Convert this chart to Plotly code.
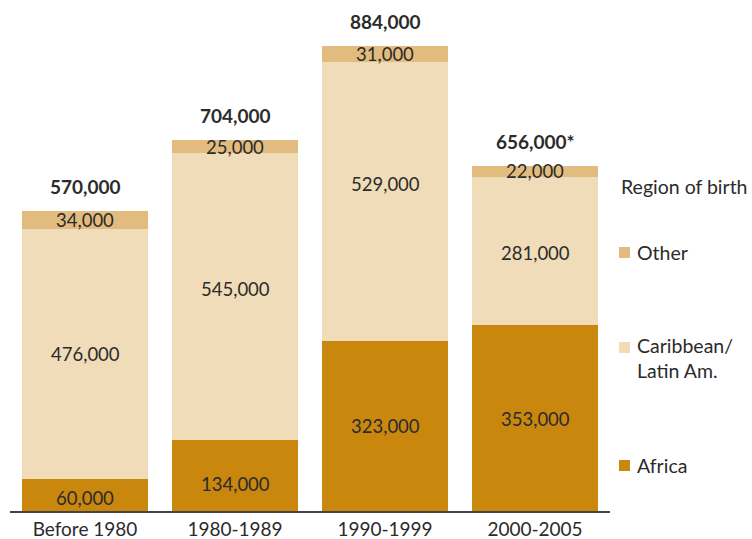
import plotly.graph_objects as go

# Foreign-born population by period of arrival and region of birth
periods = ["Before 1980", "1980-1989", "1990-1999", "2000-2005"]
africa = [60000, 134000, 323000, 353000]
caribbean = [476000, 545000, 529000, 281000]
other = [34000, 25000, 31000, 22000]
totals = [570000, 704000, 884000, 656000]
total_labels = ["570,000", "704,000", "884,000", "656,000*"]

series_names = ["Africa", "Caribbean/<br>Latin Am.", "Other"]
series_colors = ["#C9870E", "#F0DCB8", "#E2BB7E"]
series_values = [africa, caribbean, other]
# Small vertical nudges (px) for the in-bar value labels
label_nudges = [[-3, -8, 0, -1], [0, 8, 18, -2], [0, 0, 0, 0]]

FONT = "Lato, 'Open Sans', sans-serif"
TEXT_COLOR = "#2b2b2b"
VALUE_SIZE = 18.5
TOTAL_SIZE = 19
AXIS_SIZE = 19
LEGEND_SIZE = 19.5

W, H = 752, 539
ML, MR, MT, MB = 10, 142, 37, 28
pw, ph = W - ML - MR, H - MT - MB


def px_to_paper(x, y):
    return (x - ML) / pw, (H - MB - y) / ph


fig = go.Figure()
for name, color, vals in zip(series_names, series_colors, series_values):
    fig.add_trace(go.Bar(
        x=periods, y=vals, name=name,
        marker=dict(color=color, line=dict(width=0)),
        showlegend=False, hoverinfo="skip",
    ))

annotations = []
# Segment value labels inside each segment
for i, p in enumerate(periods):
    base = 0
    for s, vals in enumerate(series_values):
        v = vals[i]
        annotations.append(dict(
            x=p, y=base + v / 2, xref="x", yref="y",
            text=f"{v:,}", showarrow=False, yshift=label_nudges[s][i],
            font=dict(family=FONT, size=VALUE_SIZE, color=TEXT_COLOR),
        ))
        base += v
    # Total label above the stack
    annotations.append(dict(
        x=p, y=base, xref="x", yref="y",
        text=f"<b>{total_labels[i]}</b>", showarrow=False,
        yanchor="bottom", yshift=11,
        font=dict(family=FONT, size=TOTAL_SIZE, color=TEXT_COLOR),
    ))

# Hand-placed legend at the right
tx, ty = px_to_paper(619, 186)
annotations.append(dict(
    x=tx, y=ty, xref="paper", yref="paper", text="Region of birth",
    showarrow=False, xanchor="left", yanchor="middle",
    font=dict(family=FONT, size=LEGEND_SIZE, color=TEXT_COLOR),
))
legend_items = [("Other", series_colors[2], 252),
                ("Caribbean/<br>Latin Am.", series_colors[1], 358),
                ("Africa", series_colors[0], 465)]

shapes = []
for label, color, ypx in legend_items:
    lx, ly = px_to_paper(635, ypx)
    annotations.append(dict(
        x=lx, y=ly, xref="paper", yref="paper", text=label,
        showarrow=False, xanchor="left", yanchor="middle",
        align="left",
        font=dict(family=FONT, size=LEGEND_SIZE, color=TEXT_COLOR),
    ))
    sy = ypx - 11 if "<br>" in label else ypx
    x0, y0 = px_to_paper(619, sy + 6)
    x1, y1 = px_to_paper(630, sy - 5)
    shapes.append(dict(type="rect", xref="paper", yref="paper",
                       x0=x0, y0=y0, x1=x1, y1=y1,
                       fillcolor=color, line=dict(width=0)))

fig.update_layout(
    width=W, height=H,
    margin=dict(l=ML, r=MR, t=MT, b=MB),
    barmode="stack", bargap=0.16,
    paper_bgcolor="white", plot_bgcolor="white",
    font=dict(family=FONT, size=AXIS_SIZE, color=TEXT_COLOR),
    xaxis=dict(showline=True, linecolor="#444", linewidth=1.5,
               ticks="", showgrid=False, tickfont=dict(size=AXIS_SIZE),
               automargin=False, fixedrange=True),
    yaxis=dict(range=[0, 900000], visible=False, showgrid=False,
               automargin=False, fixedrange=True),
    annotations=annotations, shapes=shapes,
)

fig.write_html("out.html", config={"displayModeBar": False})
